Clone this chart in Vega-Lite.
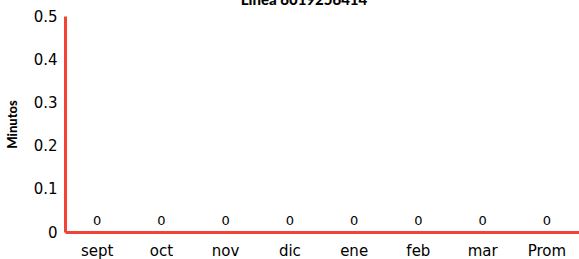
{
  "$schema": "https://vega.github.io/schema/vega-lite/v6.json",
  "autosize": "none",
  "width": 514,
  "height": 216,
  "padding": {"left": 65, "top": 16, "right": 0, "bottom": 27},
  "background": "white",
  "title": {"text": "Línea 6019256414", "font": "Lato", "fontWeight": 900, "fontSize": 15, "color": "black", "offset": 1, "anchor": "middle", "dx": -18},
  "data": {"values": [
    {"mes": "sept", "minutos": 0},
    {"mes": "oct", "minutos": 0},
    {"mes": "nov", "minutos": 0},
    {"mes": "dic", "minutos": 0},
    {"mes": "ene", "minutos": 0},
    {"mes": "feb", "minutos": 0},
    {"mes": "mar", "minutos": 0},
    {"mes": "Prom", "minutos": 0}
  ]},
  "config": {"view": {"stroke": null}},
  "encoding": {
    "x": {"field": "mes", "type": "nominal", "sort": null,
      "axis": {"title": null, "labelAngle": 0, "labelFont": "DejaVu Sans", "labelFontSize": 15, "labelColor": "black", "labelPadding": 11, "ticks": false, "domainColor": "#f44336", "domainWidth": 3, "grid": false}},
    "y": {"field": "minutos", "type": "quantitative", "scale": {"domain": [0, 0.5]},
      "axis": {"title": "Minutos", "titleFont": "Lato", "titleFontWeight": 900, "titleFontSize": 13, "titleColor": "black", "titlePadding": 14, "values": [0, 0.1, 0.2, 0.3, 0.4, 0.5], "labelExpr": "datum.value == 0 ? '0' : datum.label", "labelFont": "DejaVu Sans", "labelFontSize": 15, "labelColor": "black", "labelPadding": 8, "ticks": false, "domainColor": "#f44336", "domainWidth": 3, "grid": false}}
  },
  "layer": [
    {"mark": {"type": "bar", "color": "#f44336"}},
    {"mark": {"type": "text", "dy": -11, "font": "DejaVu Sans", "fontSize": 13, "color": "black"},
      "encoding": {"text": {"field": "minutos", "type": "quantitative"}}}
  ]
}
